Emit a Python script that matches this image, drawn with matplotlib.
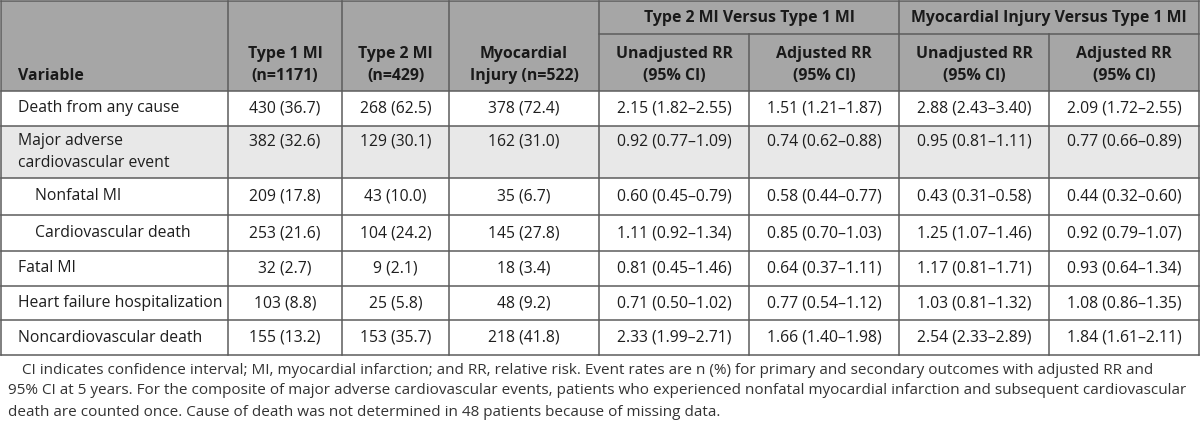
import matplotlib
matplotlib.use("Agg")
import matplotlib.pyplot as plt
from matplotlib.patches import Rectangle

plt.rcParams['font.family'] = ['Open Sans', 'DejaVu Sans']

# table data
variables = ["Death from any cause", "Major adverse\ncardiovascular event", "Nonfatal MI",
             "Cardiovascular death", "Fatal MI", "Heart failure hospitalization",
             "Noncardiovascular death"]
type1 = ["430 (36.7)", "382 (32.6)", "209 (17.8)", "253 (21.6)", "32 (2.7)", "103 (8.8)", "155 (13.2)"]
type2 = ["268 (62.5)", "129 (30.1)", "43 (10.0)", "104 (24.2)", "9 (2.1)", "25 (5.8)", "153 (35.7)"]
injury = ["378 (72.4)", "162 (31.0)", "35 (6.7)", "145 (27.8)", "18 (3.4)", "48 (9.2)", "218 (41.8)"]
t2_unadj = ["2.15 (1.82–2.55)", "0.92 (0.77–1.09)", "0.60 (0.45–0.79)", "1.11 (0.92–1.34)",
            "0.81 (0.45–1.46)", "0.71 (0.50–1.02)", "2.33 (1.99–2.71)"]
t2_adj = ["1.51 (1.21–1.87)", "0.74 (0.62–0.88)", "0.58 (0.44–0.77)", "0.85 (0.70–1.03)",
          "0.64 (0.37–1.11)", "0.77 (0.54–1.12)", "1.66 (1.40–1.98)"]
inj_unadj = ["2.88 (2.43–3.40)", "0.95 (0.81–1.11)", "0.43 (0.31–0.58)", "1.25 (1.07–1.46)",
             "1.17 (0.81–1.71)", "1.03 (0.81–1.32)", "2.54 (2.33–2.89)"]
inj_adj = ["2.09 (1.72–2.55)", "0.77 (0.66–0.89)", "0.44 (0.32–0.60)", "0.92 (0.79–1.07)",
           "0.93 (0.64–1.34)", "1.08 (0.86–1.35)", "1.84 (1.61–2.11)"]
col_headers = ["Variable", "Type 1 MI\n(n=1171)", "Type 2 MI\n(n=429)", "Myocardial\nInjury (n=522)",
               "Unadjusted RR\n(95% CI)", "Adjusted RR\n(95% CI)",
               "Unadjusted RR\n(95% CI)", "Adjusted RR\n(95% CI)"]
group_headers = ["Type 2 MI Versus Type 1 MI", "Myocardial Injury Versus Type 1 MI"]
footnote = [
    "CI indicates confidence interval; MI, myocardial infarction; and RR, relative risk. Event rates are n (%) for primary and secondary outcomes with adjusted RR and",
    "95% CI at 5 years. For the composite of major adverse cardiovascular events, patients who experienced nonfatal myocardial infarction and subsequent cardiovascular",
    "death are counted once. Cause of death was not determined in 48 patients because of missing data.",
]
indented = {"Nonfatal MI", "Cardiovascular death"}
shaded = {"Major adverse\ncardiovascular event"}

# layout (pixels)
col_x = [1, 228, 342, 449, 599, 749, 899, 1049, 1199]
row_y = [91, 126, 178, 215, 251, 286, 320, 355]
top, mid = 1, 34
HEAD_BG = '#a6a6a6'
SHADE = '#e8e8e8'
LINE = '#5c5c5c'
FS = 11.3
HFS = 11.4

fig = plt.figure(figsize=(12, 4.32), dpi=100)
ax = fig.add_axes([0, 0, 1, 1])
ax.set_xlim(0, 1200)
ax.set_ylim(432, 0)
ax.axis('off')

# backgrounds
ax.add_patch(Rectangle((col_x[0], top), col_x[-1] - col_x[0], row_y[0] - top, color=HEAD_BG, lw=0))
for i, v in enumerate(variables):
    if v in shaded:
        ax.add_patch(Rectangle((col_x[0], row_y[i]), col_x[-1] - col_x[0], row_y[i + 1] - row_y[i],
                               color=SHADE, lw=0))

lw = 1.1
# horizontal lines
for y in row_y:
    ax.plot([col_x[0], col_x[-1]], [y, y], color=LINE, lw=lw)
ax.plot([col_x[0], col_x[-1]], [top, top], color=LINE, lw=lw)
ax.plot([col_x[4], col_x[-1]], [mid, mid], color=LINE, lw=lw)
# vertical lines
for j, x in enumerate(col_x):
    y0 = mid if j in (5, 7) else top
    ax.plot([x, x], [y0, row_y[-1]], color=LINE, lw=lw)

# header text
ax.text(18, 76, col_headers[0], ha='left', va='center', fontsize=HFS, fontweight='bold', color='#1a1a1a')
for j in range(1, 8):
    cx = (col_x[j] + col_x[j + 1]) / 2
    ax.text(cx, 65, col_headers[j], ha='center', va='center', fontsize=HFS, fontweight='bold',
            color='#1a1a1a', linespacing=1.5)
for g, h in enumerate(group_headers):
    cx = (col_x[4 + 2 * g] + col_x[6 + 2 * g]) / 2
    ax.text(cx, 17.5, h, ha='center', va='center', fontsize=HFS, fontweight='bold', color='#1a1a1a')

# body
cols = [type1, type2, injury, t2_unadj, t2_adj, inj_unadj, inj_adj]
for i, v in enumerate(variables):
    y0, y1 = row_y[i], row_y[i + 1]
    first_line = y0 + 16
    xv = 35 if v in indented else 18
    if "\n" in v:
        ax.text(xv, first_line - 9, v, ha='left', va='top', fontsize=FS, color='#1e1e1e', linespacing=1.5)
    else:
        ax.text(xv, (y0 + y1) / 2, v, ha='left', va='center', fontsize=FS, color='#1e1e1e')
    for j, col in enumerate(cols):
        cx = (col_x[j + 1] + col_x[j + 2]) / 2
        ax.text(cx, first_line if "\n" in v else (y0 + y1) / 2, col[i], ha='center', va='center',
                fontsize=FS, color='#1e1e1e')

# footnote
for k, line in enumerate(footnote):
    ax.text(22 if k == 0 else 8, 370 + k * 21, line, ha='left', va='center', fontsize=10.95, color='#333333')

fig.savefig('out.png', dpi=100)
